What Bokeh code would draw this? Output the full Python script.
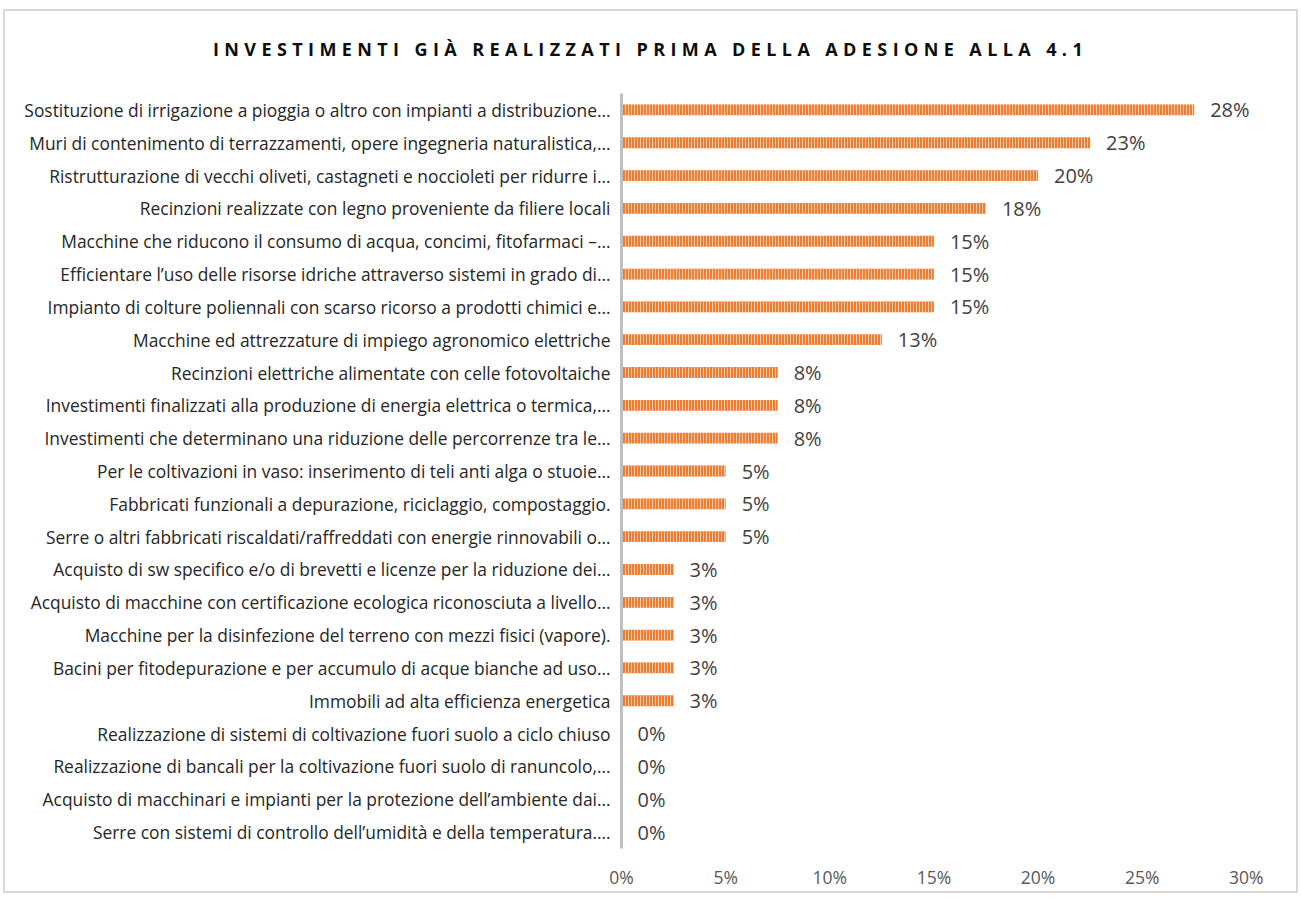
from bokeh.plotting import figure
from bokeh.models import ColumnDataSource, FactorRange, Range1d, FixedTicker, PrintfTickFormatter, Div, LabelSet, Spacer
from bokeh.layouts import column, row
from bokeh.core.properties import value
from bokeh.embed import file_html
from bokeh.resources import INLINE

title_text = "INVESTIMENTI GIÀ REALIZZATI PRIMA DELLA ADESIONE ALLA 4.1"

categories = [
    "Sostituzione di irrigazione a pioggia o altro con impianti a distribuzione…",
    "Muri di contenimento di terrazzamenti, opere ingegneria naturalistica,…",
    "Ristrutturazione di vecchi oliveti, castagneti e noccioleti per ridurre i…",
    "Recinzioni realizzate con legno proveniente da filiere locali",
    "Macchine che riducono il consumo di acqua, concimi, fitofarmaci –…",
    "Efficientare l’uso delle risorse idriche attraverso sistemi in grado di…",
    "Impianto di colture poliennali con scarso ricorso a prodotti chimici e…",
    "Macchine ed attrezzature di impiego agronomico elettriche",
    "Recinzioni elettriche alimentate con celle fotovoltaiche",
    "Investimenti finalizzati alla produzione di energia elettrica o termica,…",
    "Investimenti che determinano una riduzione delle percorrenze tra le…",
    "Per le coltivazioni in vaso: inserimento di teli anti alga o stuoie…",
    "Fabbricati funzionali a depurazione, riciclaggio, compostaggio.",
    "Serre o altri fabbricati riscaldati/raffreddati con energie rinnovabili o…",
    "Acquisto di sw specifico e/o di brevetti e licenze per la riduzione dei…",
    "Acquisto di macchine con certificazione ecologica riconosciuta a livello…",
    "Macchine per la disinfezione del terreno con mezzi fisici (vapore).",
    "Bacini per fitodepurazione e per accumulo di acque bianche ad uso…",
    "Immobili ad alta efficienza energetica",
    "Realizzazione di sistemi di coltivazione fuori suolo a ciclo chiuso",
    "Realizzazione di bancali per la coltivazione fuori suolo di ranuncolo,…",
    "Acquisto di macchinari e impianti per la protezione dell’ambiente dai…",
    "Serre con sistemi di controllo dell’umidità e della temperatura.…",
]

values = [27.5, 22.5, 20.0, 17.5, 15.0, 15.0, 15.0, 12.5, 7.5, 7.5, 7.5,
          5.0, 5.0, 5.0, 2.5, 2.5, 2.5, 2.5, 2.5, 0.0, 0.0, 0.0, 0.0]

value_labels = ["28%", "23%", "20%", "18%", "15%", "15%", "15%", "13%", "8%", "8%", "8%",
                "5%", "5%", "5%", "3%", "3%", "3%", "3%", "3%", "0%", "0%", "0%", "0%"]

x_ticks = [0, 5, 10, 15, 20, 25, 30]

source = ColumnDataSource(dict(cat=categories, val=values, lab=value_labels))

W = 1281
H = 870
TITLE_H = 64

div = Div(
    text=("<div style=\"width:%dpx;text-align:center;letter-spacing:5.4px;"
          "font-family:'Open Sans';font-weight:bold;font-size:18px;color:#0D0D0D;"
          "padding-top:21px;white-space:nowrap;\">%s</div>") % (W, title_text),
    width=W, height=TITLE_H,
)

p = figure(
    width=W, height=H - TITLE_H,
    y_range=FactorRange(*reversed(categories)),
    x_range=Range1d(0, 31.5),
    output_backend="svg", toolbar_location=None,
    min_border_left=616, min_border_right=9,
    min_border_top=8, min_border_bottom=43,
)

p.hbar(y="cat", right="val", left=0, height=0.33, source=source,
       fill_color="#ED7D31", line_color=None,
       hatch_pattern="vertical_line", hatch_color="#F8CBAD",
       hatch_scale=3, hatch_weight=1)

labels = LabelSet(x="val", y="cat", text="lab", source=source,
                  x_offset=16, text_align="left", text_baseline="middle",
                  text_font=value("Open Sans"), text_font_size=value("20px"),
                  text_color="#404040")
p.add_layout(labels)

p.xgrid.visible = False
p.ygrid.visible = False
p.outline_line_color = None

p.xaxis.ticker = FixedTicker(ticks=x_ticks)
p.xaxis.formatter = PrintfTickFormatter(format="%d%%")
p.xaxis.axis_line_color = None
p.xaxis.major_tick_line_color = None
p.xaxis.minor_tick_line_color = None
p.xaxis.major_label_standoff = 10
p.xaxis.major_label_text_font = "Open Sans"
p.xaxis.major_label_text_font_size = "17.5px"
p.xaxis.major_label_text_color = "#595959"

p.yaxis.axis_line_color = "#BFBFBF"
p.yaxis.axis_line_width = 3
p.yaxis.major_tick_line_color = None
p.yaxis.minor_tick_line_color = None
p.yaxis.major_label_standoff = 5
p.yaxis.major_label_text_font = "Open Sans"
p.yaxis.major_label_text_font_size = "17.4px"
p.yaxis.major_label_text_color = "#262626"

inner = column(div, p, styles={"border": "2px solid #D9D9D9"})
layout = column(Spacer(height=9, width=10), row(Spacer(width=3, height=10), inner))

open("out.html", "w").write(file_html(layout, INLINE))
